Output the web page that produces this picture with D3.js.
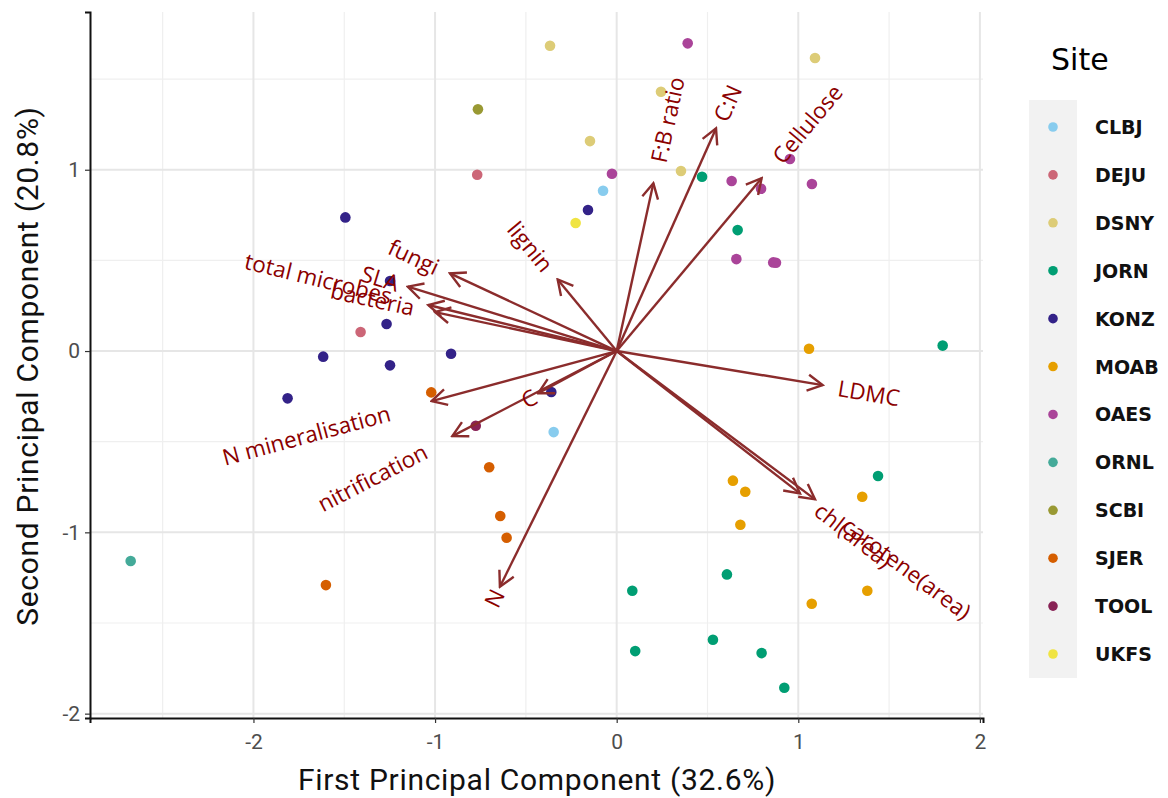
<!DOCTYPE html>
<html>
<head>
<meta charset="utf-8">
<script src="https://cdn.jsdelivr.net/npm/d3@7"></script>
<style>
  body { margin: 0; background: #fff; }
  svg { display: block; }
</style>
</head>
<body>
<div id="chart"></div>
<script>
// sites and their colours
var sites = ["CLBJ", "DEJU", "DSNY", "JORN", "KONZ", "MOAB", "OAES", "ORNL", "SCBI", "SJER", "TOOL", "UKFS"];
var siteColors = ["#88ccee", "#cc6677", "#ddcc77", "#009e73", "#332288", "#e69f00", "#aa4499", "#44aa99", "#999933", "#d55e00", "#882255", "#f0e442"];

// scores: site of each sample, PC1, PC2
var pointSite = [
  "CLBJ", "CLBJ",
  "DEJU", "DEJU",
  "DSNY", "DSNY", "DSNY", "DSNY", "DSNY",
  "JORN", "JORN", "JORN", "JORN", "JORN", "JORN", "JORN", "JORN", "JORN", "JORN",
  "KONZ", "KONZ", "KONZ", "KONZ", "KONZ", "KONZ", "KONZ", "KONZ", "KONZ",
  "MOAB", "MOAB", "MOAB", "MOAB", "MOAB", "MOAB", "MOAB",
  "OAES", "OAES", "OAES", "OAES", "OAES", "OAES", "OAES", "OAES", "OAES",
  "ORNL", "SCBI",
  "SJER", "SJER", "SJER", "SJER", "SJER",
  "TOOL", "UKFS"
];
var pc1 = [
  -0.075, -0.347,
  -0.768, -1.410,
  -0.367, 1.092, 0.244, -0.147, 0.354,
  0.470, 0.666, 1.795, 1.439, 0.607, 0.086, 0.530, 0.102, 0.798, 0.923,
  -1.494, -0.158, -1.248, -1.267, -1.616, -1.248, -0.912, -1.812, -0.360,
  1.059, 0.640, 0.708, 0.681, 1.352, 1.380, 1.074,
  0.391, -0.026, 0.633, 0.795, 0.954, 1.075, 0.659, 0.862, 0.877,
  -2.676, -0.764,
  -1.021, -0.702, -0.641, -0.606, -1.601,
  -0.776, -0.226
];
var pc2 = [
  0.884, -0.447,
  0.972, 0.105,
  1.684, 1.616, 1.430, 1.158, 0.993,
  0.961, 0.667, 0.030, -0.689, -1.232, -1.322, -1.592, -1.655, -1.666, -1.857,
  0.737, 0.778, 0.386, 0.149, -0.031, -0.079, -0.015, -0.261, -0.226,
  0.013, -0.715, -0.776, -0.958, -0.804, -1.322, -1.394,
  1.697, 0.978, 0.938, 0.895, 1.059, 0.921, 0.507, 0.489, 0.487,
  -1.158, 1.333,
  -0.228, -0.641, -0.910, -1.030, -1.291,
  -0.412, 0.706
];

// variable loadings (arrow tips)
var varNames = ["fungi", "SLA", "total microbes", "bacteria", "lignin", "F:B ratio", "C:N", "Cellulose",
                "LDMC", "chl(area)", "carotene(area)", "N mineralisation", "nitrification", "C", "N"];
var loadX = [-0.918, -1.150, -1.037, -1.000, -0.325, 0.202, 0.547, 0.798, 1.134, 1.009, 1.092, -1.019, -0.905, -0.432, -0.643];
var loadY = [0.428, 0.355, 0.254, 0.215, 0.395, 0.925, 1.228, 0.953, -0.188, -0.785, -0.818, -0.276, -0.469, -0.233, -1.300];

var xTicks = [-2, -1, 0, 1, 2];
var yTicks = [-2, -1, 0, 1];
var xTitle = "First Principal Component (32.6%)";
var yTitle = "Second Principal Component (20.8%)";

function drawBiplot() {
    var width = 1168, height = 798;
    var pLeft = 90, pRight = 983, pTop = 12, pBottom = 718;
    var arrowCol = "#8b2c2c", labelCol = "#8b0000";
    var tickFont = "Roboto, sans-serif";
    var titleFont = "Roboto, sans-serif";

    var svg = d3.select("#chart").append("svg")
        .attr("width", width)
        .attr("height", height);

    var x = d3.scaleLinear().domain([-2.900, 2.017]).range([pLeft, pRight]);
    var y = d3.scaleLinear().domain([-2.024, 1.870]).range([pBottom, pTop]);
    var color = d3.scaleOrdinal().domain(sites).range(siteColors);

    // grid
    var minorX = d3.range(-2.5, 2.01, 1), minorY = d3.range(-1.5, 1.6, 1);
    var grid = svg.append("g");
    grid.selectAll(".mx").data(minorX).enter().append("line")
        .attr("x1", d => x(d)).attr("x2", d => x(d)).attr("y1", pTop).attr("y2", pBottom)
        .attr("stroke", "#efefef").attr("stroke-width", 1.2);
    grid.selectAll(".my").data(minorY).enter().append("line")
        .attr("y1", d => y(d)).attr("y2", d => y(d)).attr("x1", pLeft).attr("x2", pRight)
        .attr("stroke", "#efefef").attr("stroke-width", 1.2);
    grid.selectAll(".gx").data(xTicks).enter().append("line")
        .attr("x1", d => x(d)).attr("x2", d => x(d)).attr("y1", pTop).attr("y2", pBottom)
        .attr("stroke", "#e6e6e6").attr("stroke-width", 2);
    grid.selectAll(".gy").data(yTicks).enter().append("line")
        .attr("y1", d => y(d)).attr("y2", d => y(d)).attr("x1", pLeft).attr("x2", pRight)
        .attr("stroke", "#e6e6e6").attr("stroke-width", 2);

    // axes
    var xAxis = svg.append("g")
        .attr("transform", "translate(0," + pBottom + ")")
        .call(d3.axisBottom(x).tickValues(xTicks).tickSize(5).tickPadding(11).tickFormat(d3.format("d")));
    var yAxis = svg.append("g")
        .attr("transform", "translate(" + pLeft + ",0)")
        .call(d3.axisLeft(y).tickValues(yTicks).tickSize(5).tickPadding(5).tickFormat(d3.format("d")));
    [xAxis, yAxis].forEach(function(a) {
        a.select(".domain").attr("stroke", "#111").attr("stroke-width", 2);
        a.selectAll(".tick line").attr("stroke", "#333").attr("stroke-width", 1.2);
        a.selectAll(".tick text").attr("fill", "#4d4d4d")
            .style("font-family", tickFont).style("font-size", "21px");
    });
    xAxis.selectAll(".tick text").text(function(d) { return d < 0 ? "-" + Math.abs(d) : d; });
    yAxis.selectAll(".tick text").text(function(d) { return d < 0 ? "-" + Math.abs(d) : d; });

    svg.append("text")
        .attr("x", 537).attr("y", 790)
        .attr("text-anchor", "middle")
        .style("font-family", titleFont).style("font-size", "30px").style("letter-spacing", "0.7px")
        .attr("fill", "#111")
        .text(xTitle);
    svg.append("text")
        .attr("transform", "translate(38," + 366 + ") rotate(-90)")
        .attr("text-anchor", "middle")
        .style("font-family", titleFont).style("font-size", "30px").style("letter-spacing", "0.7px")
        .attr("fill", "#111")
        .text(yTitle);

    // points
    svg.append("g").selectAll("circle")
        .data(pc1.map(function(v, i) { return {x: v, y: pc2[i], site: pointSite[i]}; }))
        .enter().append("circle")
        .attr("cx", d => x(d.x))
        .attr("cy", d => y(d.y))
        .attr("r", 5.3)
        .attr("fill", d => color(d.site));

    // arrows
    svg.append("defs").append("marker")
        .attr("id", "head")
        .attr("viewBox", "-17 -10 19 20")
        .attr("refX", 0).attr("refY", 0)
        .attr("markerWidth", 19).attr("markerHeight", 20)
        .attr("markerUnits", "userSpaceOnUse")
        .attr("orient", "auto")
        .append("path")
        .attr("d", "M-15,-8L0,0L-15,8")
        .attr("fill", "none")
        .attr("stroke", arrowCol)
        .attr("stroke-width", 2.4);

    var loads = varNames.map(function(n, i) { return {name: n, x: loadX[i], y: loadY[i]}; });

    svg.append("g").selectAll("line")
        .data(loads).enter().append("line")
        .attr("x1", x(0)).attr("y1", y(0))
        .attr("x2", d => x(d.x)).attr("y2", d => y(d.y))
        .attr("stroke", arrowCol)
        .attr("stroke-width", 2.4)
        .attr("marker-end", "url(#head)");

    // labels, placed like ggbiplot: at the tip, pushed out by a quarter of their width
    var lab = svg.append("g").selectAll("text")
        .data(loads).enter().append("text")
        .attr("fill", labelCol)
        .style("font-family", "'Open Sans', 'Noto Sans', sans-serif")
        .style("font-size", "22.5px")
        .attr("dominant-baseline", "central")
        .text(d => d.name);
    lab.each(function(d) {
        var w = this.getComputedTextLength();
        var px = x(d.x), py = y(d.y);
        var ang = Math.atan((py - y(0)) / (px - x(0))) * 180 / Math.PI;
        var sgn = d.x >= 0 ? 1 : -1;
        d3.select(this)
            .attr("text-anchor", sgn > 0 ? "start" : "end")
            .attr("transform", "translate(" + px + "," + py + ") rotate(" + ang + ") translate(" + (sgn * 0.25 * w) + ",0)");
    });

    // legend
    svg.append("text")
        .attr("x", 1051).attr("y", 70)
        .style("font-family", "'DejaVu Sans', sans-serif").style("font-size", "30px")
        .attr("fill", "#000")
        .text("Site");
    var ly = d3.scalePoint().domain(sites).range([127, 654]);
    svg.append("rect")
        .attr("x", 1029).attr("y", 100).attr("width", 48).attr("height", 578)
        .attr("fill", "#f2f2f2");
    var leg = svg.append("g").selectAll("g")
        .data(sites).enter().append("g")
        .attr("transform", d => "translate(0," + ly(d) + ")");
    leg.append("circle").attr("cx", 1053).attr("cy", 0).attr("r", 4.8).attr("fill", d => color(d));
    leg.append("text")
        .attr("x", 1095).attr("y", 0)
        .attr("dominant-baseline", "central")
        .style("font-family", "'DejaVu Sans', sans-serif").style("font-size", "19px").style("font-weight", "bold")
        .attr("fill", "#111")
        .text(d => d);
}
drawBiplot();
</script>
</body>
</html>
